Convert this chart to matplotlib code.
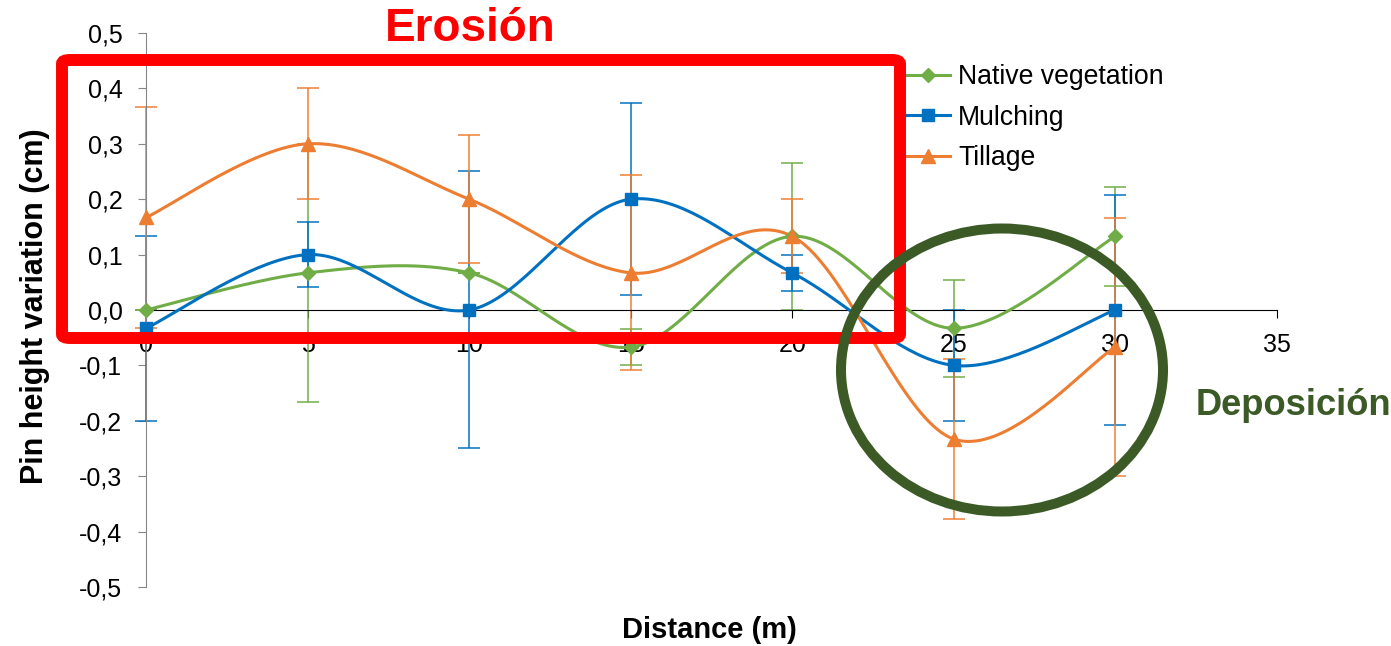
import numpy as np
import matplotlib as mpl
mpl.use('Agg')
import matplotlib.pyplot as plt
from matplotlib import ticker
from matplotlib.patches import FancyBboxPatch, Ellipse

plt.rcParams['font.family'] = ['Liberation Sans', 'DejaVu Sans']

# data
distance = [0, 5, 10, 15, 20, 25, 30]
native = [0.0, 0.067, 0.067, -0.067, 0.133, -0.033, 0.133]
native_err = [0.0, 0.233, 0.0, 0.033, 0.133, 0.088, 0.089]
mulching = [-0.033, 0.1, 0.0, 0.2, 0.067, -0.1, 0.0]
mulching_err = [0.167, 0.058, 0.25, 0.173, 0.033, 0.1, 0.207]
tillage = [0.167, 0.3, 0.2, 0.067, 0.133, -0.233, -0.067]
tillage_err = [0.2, 0.1, 0.115, 0.176, 0.067, 0.144, 0.233]

series_names = ['Native vegetation', 'Mulching', 'Tillage']
colors = ['#70AD47', '#0070C0', '#ED7D31']
markers = ['D', 's', '^']
msizes = [7, 9, 10]


def smooth(x, y, n=40):
	# excel-like smoothed line (catmull-rom bezier)
	p = np.column_stack([x, y]).astype(float)
	pts = np.vstack([p[0], p, p[-1]])
	out = []
	t = np.linspace(0, 1, n)[:, None]
	for i in range(1, len(pts) - 2):
		p0, p1, p2, p3 = pts[i - 1], pts[i], pts[i + 1], pts[i + 2]
		c1 = p1 + (p2 - p0) / 6
		c2 = p2 - (p3 - p1) / 6
		seg = (1 - t)**3 * p1 + 3 * (1 - t)**2 * t * c1 + 3 * (1 - t) * t**2 * c2 + t**3 * p2
		out.append(seg)
	out = np.vstack(out)
	return out[:, 0], out[:, 1]


def comma_fmt(v, pos):
	if abs(v) < 1e-9:
		v = 0.0
	return '{:.1f}'.format(v).replace('.', ',')


fig = plt.figure(figsize=(13.91, 6.46), dpi=100)
ax = fig.add_axes([146 / 1391, 1 - 587 / 646, (1277 - 146) / 1391, (587 - 33) / 646])

handles = []
for vals, errs, c, m, ms, name in zip([native, mulching, tillage],
		[native_err, mulching_err, tillage_err], colors, markers, msizes, series_names):
	ax.errorbar(distance, vals, yerr=errs, fmt='none', ecolor=c, elinewidth=1.2,
		capsize=8, capthick=1.2, zorder=2, clip_on=False, alpha=0.9)
	sx, sy = smooth(distance, vals)
	ax.plot(sx, sy, color=c, lw=2.2, zorder=3, clip_on=False)
	ax.plot(distance, vals, ls='none', marker=m, ms=ms, color=c, zorder=4, clip_on=False)
	h, = ax.plot([], [], color=c, lw=2.2, marker=m, ms=ms, label=name)
	handles.append(h)

ax.set_xlim(0, 35)
ax.set_ylim(-0.5, 0.5)
ax.set_xticks(np.arange(0, 36, 5))
ax.set_yticks(np.arange(-0.5, 0.51, 0.1))
ax.yaxis.set_major_formatter(ticker.FuncFormatter(comma_fmt))
ax.spines['bottom'].set_position(('data', 0))
ax.spines['bottom'].set_color('black')
ax.spines['left'].set_color('#868686')
ax.spines['top'].set_visible(False)
ax.spines['right'].set_visible(False)
ax.tick_params(axis='both', labelsize=18, length=6, direction='out', color='#868686')
ax.tick_params(axis='y', pad=11)
ax.tick_params(axis='x', color='black', pad=10.5)
ax.patch.set_alpha(0)

fig.text(709 / 1391, 1 - 630 / 646, 'Distance (m)', fontsize=21, fontweight='bold', ha='center', va='center')
fig.text(35 / 1391, 1 - 306 / 646, 'Pin height variation (cm)', fontsize=22, fontweight='bold',
	rotation=90, ha='center', va='center')

fig.legend(handles=handles, loc='upper left', bbox_to_anchor=(906 / 1391, 1 - 64 / 646),
	frameon=False, fontsize=19.2, handlelength=1.65, handletextpad=0.3, labelspacing=0.55,
	borderpad=0, borderaxespad=0)

# annotations
rect = FancyBboxPatch((62 / 1391, 1 - 338 / 646), (900 - 62) / 1391, (338 - 60) / 646,
	boxstyle='round,pad=0,rounding_size=0.006', transform=fig.transFigure,
	fill=False, edgecolor='#FF0000', lw=8.6, zorder=10)
fig.add_artist(rect)
ell = Ellipse((1002 / 1391, 1 - 370 / 646), 322 / 1391, 283 / 646, transform=fig.transFigure,
	fill=False, edgecolor='#3B5A26', lw=7.2, zorder=10)
fig.add_artist(ell)
fig.text(470 / 1391, 1 - 41 / 646, 'Erosión', color='#FF0000', fontsize=33, fontweight='bold',
	ha='center', va='baseline')
fig.text(1196 / 1391, 1 - 415 / 646, 'Deposición', color='#3B5A26', fontsize=26.2, fontweight='bold',
	ha='left', va='baseline')

plt.savefig('out.png', dpi=100)
